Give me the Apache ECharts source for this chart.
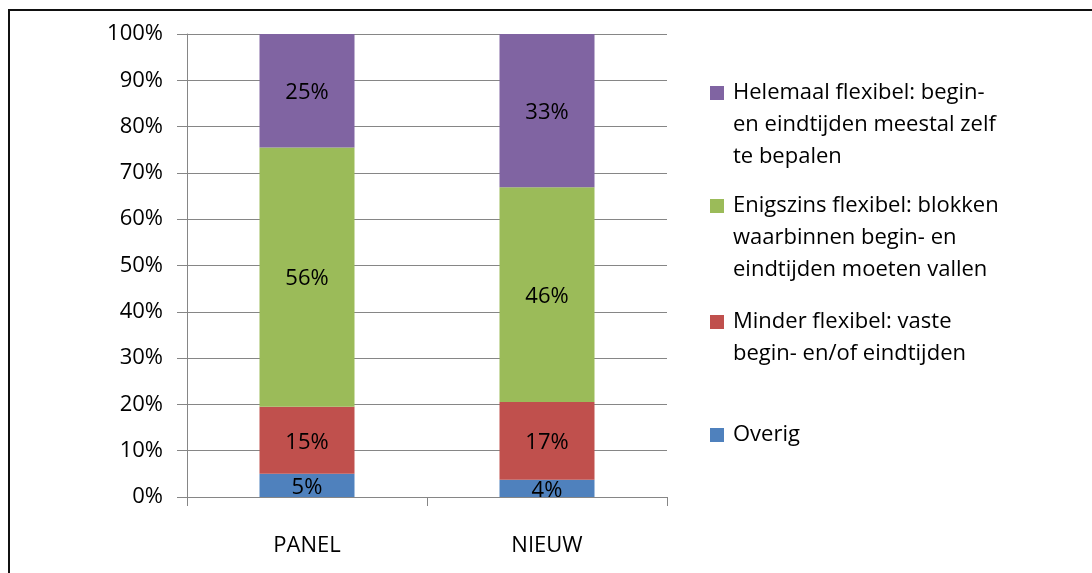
<!DOCTYPE html>
<html>
<head>
<meta charset="utf-8">
<script src="https://cdn.jsdelivr.net/npm/echarts@6/dist/echarts.min.js"></script>
<style>
html,body{margin:0;padding:0;background:#fff;}
#chart{width:1092px;height:573px;}
</style>
</head>
<body>
<div id="chart"></div>
<script>
// Data
var categories = ['PANEL', 'NIEUW'];
var seriesNames = [
  'Overig',
  'Minder flexibel: vaste begin- en/of eindtijden',
  'Enigszins flexibel: blokken waarbinnen begin- en eindtijden moeten vallen',
  'Helemaal flexibel: begin- en eindtijden meestal zelf te bepalen'
];
var overig = [5.0, 3.7];
var minder = [14.5, 16.8];
var enigszins = [56.0, 46.4];
var helemaal = [24.5, 33.1];
var legendLines = [
  ['Overig'],
  ['Minder flexibel: vaste', 'begin- en/of eindtijden'],
  ['Enigszins flexibel: blokken', 'waarbinnen begin- en', 'eindtijden moeten vallen'],
  ['Helemaal flexibel: begin-', 'en eindtijden meestal zelf', 'te bepalen']
];
var yTicks = [0, 10, 20, 30, 40, 50, 60, 70, 80, 90, 100];

var FONT = 'Open Sans';
var FS = 22;
var LH = 32;
var colors = ['#4F81BD', '#C0504D', '#9BBB59', '#8064A2'];
var seriesValues = [overig, minder, enigszins, helemaal];
var legendIconCenters = [433.5, 320.5, 204.5, 91.5];

var chart = echarts.init(document.getElementById('chart'), null, {renderer: 'canvas'});

var series = seriesNames.map(function (name, i) {
  return {
    name: name,
    type: 'bar',
    stack: 'total',
    barWidth: 95,
    data: seriesValues[i],
    itemStyle: {color: colors[i]},
    label: {
      show: true,
      position: 'inside',
      color: '#000',
      fontFamily: FONT,
      fontSize: FS,
      offset: [0, 2],
      formatter: function (p) { return Math.round(p.value) + '%'; }
    },
    emphasis: {disabled: true}
  };
});

var legends = seriesNames.map(function (name, i) {
  var n = legendLines[i].length;
  var L = 2 * n - 1;
  var prefix = '';
  for (var k = 0; k < n - 1; k++) prefix += ' \n';
  var txt = prefix + legendLines[i].join('\n');
  return {
    data: [name],
    left: 710,
    top: legendIconCenters[i] - L * LH / 2,
    padding: 0,
    itemWidth: 14,
    itemHeight: 14,
    icon: 'rect',
    selectedMode: false,
    formatter: function () { return txt; },
    textStyle: {
      fontFamily: FONT,
      fontSize: FS,
      lineHeight: LH,
      color: '#000',
      padding: [3, 0, 0, 4]
    }
  };
});

var option = {
  animation: false,
  backgroundColor: '#fff',
  grid: {left: 187, right: 425, top: 34, bottom: 76, containLabel: false},
  legend: legends,
  xAxis: {
    type: 'category',
    data: categories,
    axisLine: {lineStyle: {color: '#868686', width: 1}},
    axisTick: {show: true, length: 9, lineStyle: {color: '#868686'}},
    axisLabel: {color: '#000', fontFamily: FONT, fontSize: FS, margin: 38}
  },
  yAxis: {
    type: 'value',
    min: yTicks[0],
    max: yTicks[yTicks.length - 1],
    interval: 10,
    axisLine: {show: true, lineStyle: {color: '#868686', width: 1}},
    axisTick: {show: true, length: 10, lineStyle: {color: '#868686'}},
    splitLine: {show: true, lineStyle: {color: '#868686', width: 1}},
    axisLabel: {color: '#000', fontFamily: FONT, fontSize: FS, margin: 24, formatter: '{value}%'}
  },
  series: series,
  graphic: [
    {type: 'line', shape: {x1: 8, y1: 10, x2: 1092, y2: 10}, style: {stroke: '#111', lineWidth: 2}, silent: true},
    {type: 'line', shape: {x1: 9, y1: 10, x2: 9, y2: 573}, style: {stroke: '#111', lineWidth: 2}, silent: true}
  ]
};
chart.setOption(option);
</script>
</body>
</html>
